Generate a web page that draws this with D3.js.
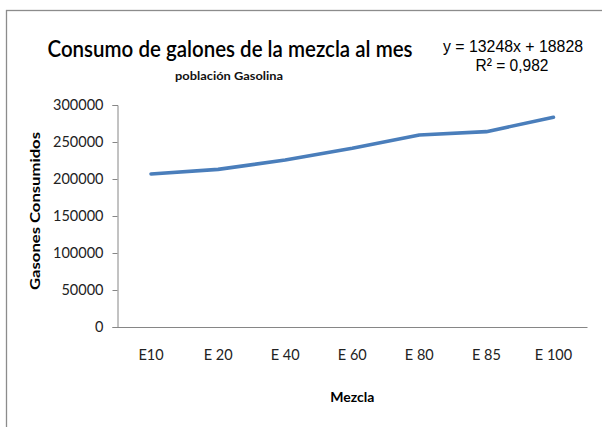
<!DOCTYPE html>
<html><head><meta charset="utf-8">
<script src="https://cdn.jsdelivr.net/npm/d3@7"></script>
<style>body{margin:0;background:#fff}svg{display:block}</style>
</head><body>
<script>
const categories = ["E10","E 20","E 40","E 60","E 80","E 85","E 100"];
const values = [206800, 213000, 225700, 241500, 259500, 264000, 283400];
const yTicks = [0, 50000, 100000, 150000, 200000, 250000, 300000];
const titleText = "Consumo de galones de la mezcla al mes";
const subtitleText = "población Gasolina";
const eqText = "y = 13248x + 18828";
const r2Text = "R² = 0,982";
const xTitle = "Mezcla";
const yTitle = "Gasones Consumidos";

(function(){
const W = 602, H = 427;
const svg = d3.select("body").append("svg").attr("width", W).attr("height", H);
svg.append("rect").attr("x",6.5).attr("y",10.5).attr("width",W).attr("height",H).attr("fill","#fff").attr("stroke","#8c8c8c").attr("stroke-width",1.3);

const mLeft = 117.5, mRight = 587, mTop = 105, mBottom = 327;
const x = d3.scaleBand().domain(categories).range([mLeft, mRight]);
const y = d3.scaleLinear().domain([0, 300000]).range([mBottom, mTop]);
const font = "Lato, 'Open Sans', sans-serif";

const yAxis = svg.append("g").attr("transform",`translate(${mLeft},0)`)
  .call(d3.axisLeft(y).tickValues(yTicks).tickSize(5).tickPadding(9).tickFormat(d3.format("d")));
yAxis.selectAll("text").attr("font-family",font).attr("font-size",14.5).attr("fill","#222");
yAxis.selectAll("line").attr("stroke","#868686");
yAxis.select(".domain").attr("stroke","#868686");

const xAxis = svg.append("g").attr("transform",`translate(0,${mBottom})`)
  .call(d3.axisBottom(x).tickSize(0).tickPadding(23));
xAxis.selectAll("text").attr("font-family",font).attr("font-size",14.5).attr("fill","#222");
xAxis.select(".domain").attr("stroke","#868686");

const line = d3.line().x((d,i)=>x(categories[i]) + x.bandwidth()/2).y(d=>y(d)).curve(d3.curveLinear);
svg.append("path").datum(values).attr("d",line).attr("fill","none")
  .attr("stroke","#4a7ebb").attr("stroke-width",3.6).attr("stroke-linecap","round").attr("stroke-linejoin","round");

svg.append("text").attr("x",230).attr("y",57).attr("text-anchor","middle")
  .attr("font-family",font).attr("font-size",22).attr("font-weight",600).attr("fill","#000")
  .attr("textLength",365).attr("lengthAdjust","spacingAndGlyphs").text(titleText);
svg.append("text").attr("x",229).attr("y",80).attr("text-anchor","middle")
  .attr("font-family",font).attr("font-size",11.5).attr("font-weight",700).attr("fill","#111")
  .attr("textLength",108).attr("lengthAdjust","spacingAndGlyphs").text(subtitleText);

svg.append("text").attr("x",513).attr("y",52).attr("text-anchor","middle")
  .attr("font-family","'Liberation Sans', Arial, sans-serif").attr("font-size",17).attr("fill","#000")
  .attr("textLength",140).attr("lengthAdjust","spacingAndGlyphs").text(eqText);
svg.append("text").attr("x",512).attr("y",71).attr("text-anchor","middle")
  .attr("font-family","'Liberation Sans', Arial, sans-serif").attr("font-size",17).attr("fill","#000")
  .attr("textLength",73).attr("lengthAdjust","spacingAndGlyphs").text(r2Text);

svg.append("text").attr("x",(mLeft+mRight)/2).attr("y",402).attr("text-anchor","middle")
  .attr("font-family",font).attr("font-size",14).attr("font-weight",700).attr("fill","#000").text(xTitle);
svg.append("text").attr("transform",`translate(40,${211}) rotate(-90)`).attr("text-anchor","middle")
  .attr("font-family",font).attr("font-size",14).attr("font-weight",700).attr("fill","#000")
  .attr("textLength",158).attr("lengthAdjust","spacingAndGlyphs").text(yTitle);
})();
</script>
</body></html>
